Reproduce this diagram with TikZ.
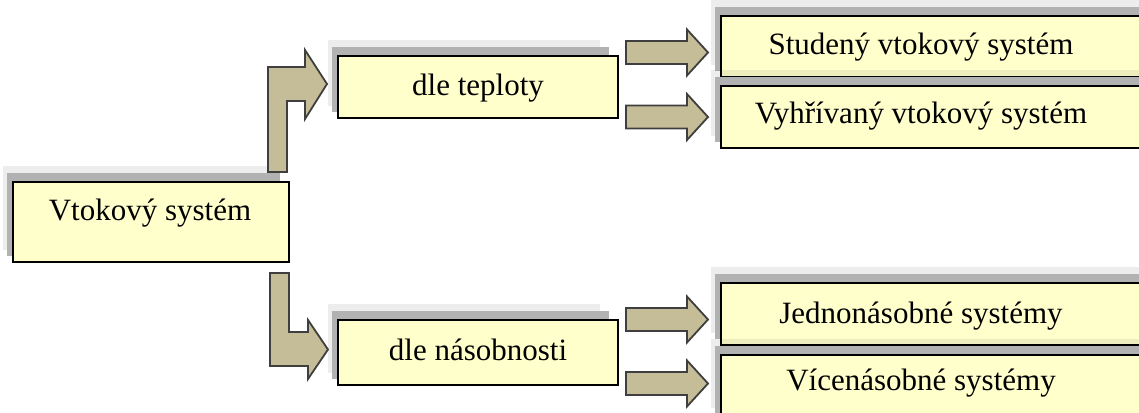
\documentclass[tikz,border=0pt]{standalone}
\usepackage{fontspec}
\IfFontExistsTF{Liberation Serif}{\newfontfamily\boxfont{Liberation Serif}}{\newfontfamily\boxfont{DejaVu Serif}}
\begin{document}
\begin{tikzpicture}[x=1pt,y=-1pt,
  box/.style={draw=black,line width=1.4pt,fill=boxfill,inner sep=0pt,outer sep=0pt},
  lbl/.style={inner sep=0pt,font=\boxfont\fontsize{31}{36}\selectfont,text=black},
  shlight/.style={fill=black,fill opacity=0.07},
  shdark/.style={fill=black!30},
  barrow/.style={fill=arrowfill,draw=arrowline,line width=1.8pt,line join=miter}]
\definecolor{boxfill}{HTML}{FFFFCC}
\definecolor{arrowfill}{HTML}{C4BD97}
\definecolor{arrowline}{HTML}{3F3F3F}
\useasboundingbox (0,0) rectangle (1139,412);
\clip (0,0) rectangle (1139,412);
\newcommand\shbox[5]{%
  \fill[shlight] (#2-10,#3-16) rectangle (#4-18,#5-12);
  \fill[shdark] (#2-6,#3-9) rectangle (#4-9,#5-6);
  \node[box,minimum width={#4-#2},minimum height={#5-#3}] (#1) at ({(#2+#4)/2},{(#3+#5)/2}) {};
}
\newcommand\straightarrow[1]{%
  \draw[barrow] (626,#1-11.5) -- (687,#1-11.5) -- (687,#1-23) -- (708,#1)
    -- (687,#1+23) -- (687,#1+11.5) -- (626,#1+11.5) -- cycle;
}
% boxes
\shbox{main}{13}{182}{289}{262}
\node[lbl,anchor=base] (mainT) at (150,220) {Vtokový systém};
\shbox{teplota}{338}{56}{618}{118}
\node[lbl,anchor=base] (teplotaT) at (478,95) {dle teploty};
\shbox{nasob}{338}{320}{618}{385}
\node[lbl,anchor=base] (nasobT) at (478,360) {dle násobnosti};
\shbox{studeny}{721}{16}{1160}{77}
\node[lbl,anchor=base] (studenyT) at (921,55) {Studený vtokový systém};
\shbox{vyhr}{721}{86}{1160}{148}
\node[lbl,anchor=base] (vyhrT) at (921,123) {Vyhřívaný vtokový systém};
\shbox{jedno}{721}{283}{1160}{345}
\node[lbl,anchor=base] (jednoT) at (921,323) {Jednonásobné systémy};
\shbox{vice}{721}{355}{1160}{420}
\node[lbl,anchor=base] (viceT) at (921,390) {Vícenásobné systémy};
% bent arrows
\draw[barrow] (268,172) -- (287,172) -- (287,101) -- (305,101) -- (305,119)
  -- (327,84) -- (305,50) -- (305,67) -- (268,67) -- cycle;
\draw[barrow] (270,273) -- (289,273) -- (289,332) -- (308,332) -- (308,320)
  -- (328,349.5) -- (308,379) -- (308,366) -- (270,366) -- cycle;
% straight arrows
\straightarrow{52.5}
\straightarrow{117}
\straightarrow{319.5}
\straightarrow{383.5}
\end{tikzpicture}
\end{document}
